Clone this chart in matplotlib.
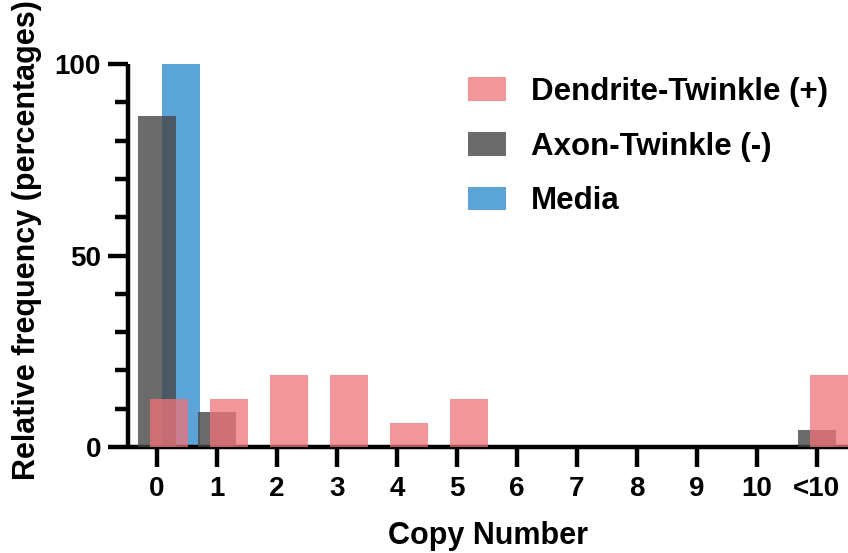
import numpy as np
import matplotlib
matplotlib.use("Agg")
import matplotlib.pyplot as plt

plt.rcParams['font.family'] = ['Liberation Sans', 'DejaVu Sans']
plt.rcParams['font.weight'] = 'bold'

# relative frequency (%) for each copy-number bin
categories = ['0', '1', '2', '3', '4', '5', '6', '7', '8', '9', '10', '<10']
dendrite = [12.5, 12.5, 18.75, 18.75, 6.25, 12.5, 0, 0, 0, 0, 0, 18.75]
axon = [86.36, 9.09, 0, 0, 0, 0, 0, 0, 0, 0, 0, 4.55]
media = [100, 0, 0, 0, 0, 0, 0, 0, 0, 0, 0, 0]

x = np.arange(len(categories))
w = 0.63

fig = plt.figure(figsize=(8.48, 5.53), dpi=100)
ax = fig.add_axes([128/848, 106/553, 720/848, 383/553])

ax.bar(x + 0.4, media, w, color='#5ba4d8', linewidth=0, label='Media', zorder=2)
ax.bar(x, axon, w, color=(70/255, 70/255, 70/255, 0.8), linewidth=0,
       label='Axon-Twinkle (-)', zorder=3)
ax.bar(x + 0.2, dendrite, w, color=(240/255, 115/255, 120/255, 0.75), linewidth=0,
       label='Dendrite-Twinkle (+)', zorder=4)

ax.set_xlim(-0.483, 11.52)
ax.set_ylim(0, 100)

ax.set_xticks(x)
ax.set_xticklabels(categories)
ax.set_yticks([0, 50, 100])
ax.set_yticks(np.arange(10, 100, 10), minor=True)

for s in ['top', 'right']:
    ax.spines[s].set_visible(False)
for s in ['left', 'bottom']:
    ax.spines[s].set_linewidth(3.2)
    ax.spines[s].set_capstyle('butt')

ax.tick_params(axis='both', which='major', length=14.4, width=3.2, labelsize=20)
ax.tick_params(axis='x', which='major', pad=6.5)
ax.tick_params(axis='y', which='major', pad=5)
ax.tick_params(axis='y', which='minor', length=9.4, width=3.2)

ax.set_xlabel('Copy Number', fontsize=22, fontweight='bold', labelpad=14)
ax.set_ylabel('Relative frequency (percentages)', fontsize=22, fontweight='bold')
ax.yaxis.set_label_coords(-0.119, 0.54)

handles, labels = ax.get_legend_handles_labels()
order = [2, 1, 0]
ax.legend([handles[i] for i in order], [labels[i] for i in order],
          loc='upper left', bbox_to_anchor=(468/848, 1 - 77/553),
          bbox_transform=fig.transFigure, frameon=False, fontsize=22.5,
          handlelength=1.216, handleheight=0.8, handletextpad=0.8,
          labelspacing=0.79, borderaxespad=0, borderpad=0)

fig.savefig('out.png', dpi=100)
